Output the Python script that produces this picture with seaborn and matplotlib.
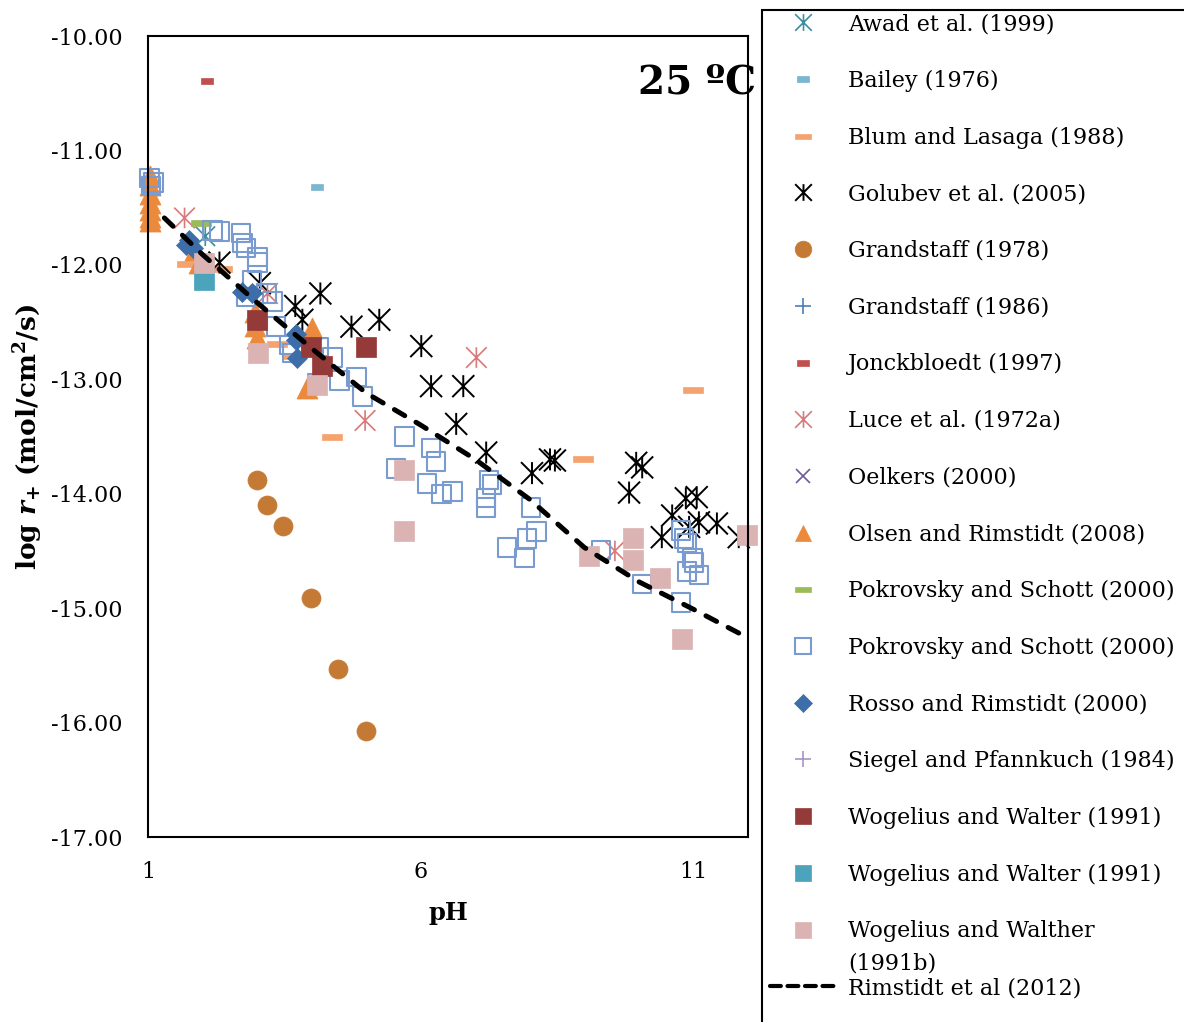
import numpy as np
import pandas as pd
import matplotlib
matplotlib.use("Agg")
import matplotlib.pyplot as plt
import seaborn as sns
from matplotlib.path import Path
from matplotlib.lines import Line2D
from matplotlib.patches import Rectangle
from matplotlib.ticker import FormatStrFormatter, FixedLocator

sns.set_theme(style="white")
plt.rcParams['font.family'] = ['DejaVu Serif']
plt.rcParams['axes.unicode_minus'] = False
plt.rcParams['mathtext.fontset'] = 'custom'
plt.rcParams['mathtext.rm'] = 'DejaVu Serif:bold'
plt.rcParams['mathtext.it'] = 'DejaVu Serif:italic:bold'
plt.rcParams['mathtext.bf'] = 'DejaVu Serif:bold'

# ---------------- data (pH, log r+) ----------------
awad_ph = [2.05]
awad_r = [-11.75]
bailey_ph = [4.09]
bailey_r = [-11.32]
blum_ph = [1.72, 2.36, 3.37, 3.65, 4.38, 8.98, 10.99]
blum_r = [-11.99, -12.04, -12.69, -12.80, -13.50, -13.70, -13.09]
golubev_ph = [2.31, 3.05, 3.70, 3.83, 4.16, 4.73, 5.24, 6.01, 6.19, 6.78, 6.65, 7.20,
              8.04, 8.37, 8.46, 9.82, 9.95, 10.06, 10.42, 10.61, 10.86, 11.06, 10.92,
              11.10, 11.43, 11.83]
golubev_r = [-11.98, -12.16, -12.36, -12.48, -12.25, -12.54, -12.48, -12.71, -13.06,
             -13.06, -13.39, -13.64, -13.82, -13.70, -13.71, -13.99, -13.73, -13.77,
             -14.38, -14.19, -14.04, -14.03, -14.29, -14.25, -14.26, -14.38]
grand78_ph = [2.99, 3.19, 3.48, 3.99, 4.49, 5.00]
grand78_r = [-13.88, -14.10, -14.28, -14.91, -15.53, -16.07]
grand86_ph = [2.00]
grand86_r = [-15.72]
jonck_ph = [2.09]
jonck_r = [-10.39]
luce_ph = [1.67, 3.19, 4.98, 7.02, 9.56]
luce_r = [-11.59, -12.25, -13.36, -12.81, -14.50]
oelkers_ph = [2.00, 2.07, 2.14]
oelkers_r = [-11.70, -11.77, -11.83]
olsen_ph = [1.03, 1.03, 1.03, 1.03, 1.03, 1.03, 1.03, 1.87, 1.94, 2.97, 2.97, 2.99,
            4.01, 3.92]
olsen_r = [-11.22, -11.30, -11.38, -11.46, -11.52, -11.58, -11.62, -11.87, -11.98,
           -12.41, -12.53, -12.64, -12.55, -13.08]
pokg_ph = [1.98]
pokg_r = [-11.63]
poks_ph = [1.03, 1.06, 1.10, 2.18, 2.31, 2.71, 2.73, 2.80, 3.01, 3.01, 2.91, 3.17, 2.80,
           3.28, 3.35, 3.59, 3.65, 4.14, 4.38, 4.51, 4.82, 4.93, 4.10, 5.70, 5.55, 6.19,
           6.28, 6.12, 6.38, 6.58, 7.25, 7.31, 7.20, 7.20, 8.02, 8.12, 7.95, 7.58, 7.90,
           9.31, 10.06, 10.77, 10.77, 10.83, 10.88, 10.98, 11.01, 10.88, 11.10]
poks_r = [-11.24, -11.31, -11.28, -11.70, -11.71, -11.72, -11.81, -11.85, -11.93, -11.98,
          -12.13, -12.25, -12.28, -12.32, -12.54, -12.70, -12.77, -12.72, -12.81, -13.01,
          -12.98, -13.15, -13.03, -13.50, -13.78, -13.60, -13.72, -13.91, -14.00, -13.98,
          -13.88, -13.92, -14.04, -14.12, -14.12, -14.33, -14.39, -14.47, -14.56, -14.49,
          -14.79, -14.95, -14.32, -14.39, -14.43, -14.56, -14.60, -14.68, -14.71]
rosso_ph = [1.76, 1.82, 1.70, 2.73, 2.90, 3.72, 3.72, 3.74]
rosso_r = [-11.78, -11.85, -11.83, -12.24, -12.25, -12.60, -12.66, -12.81]
siegel_ph = [3.99]
siegel_r = [-13.29]
wogred_ph = [2.99, 3.99, 4.19, 5.00]
wogred_r = [-12.48, -12.72, -12.88, -12.72]
wogteal_ph = [2.02]
wogteal_r = [-12.13]
wogpink_ph = [2.02, 3.01, 4.09, 5.70, 5.70, 9.09, 9.89, 9.89, 10.39, 10.79, 11.98]
wogpink_r = [-11.98, -12.77, -13.05, -13.79, -14.33, -14.54, -14.39, -14.58, -14.74,
             -15.27, -14.36]
rimstidt_ph = [1.30, 2.0, 3.0, 4.0, 5.0, 6.0, 7.0, 8.0, 9.0, 10.0, 11.0, 11.84]
rimstidt_r = [-11.59, -11.91, -12.33, -12.73, -13.12, -13.40, -13.70, -14.05, -14.47,
              -14.77, -15.01, -15.22]

labels = ["Awad et al. (1999)", "Bailey (1976)", "Blum and Lasaga (1988)",
          "Golubev et al. (2005)", "Grandstaff (1978)", "Grandstaff (1986)",
          "Jonckbloedt (1997)", "Luce et al. (1972a)", "Oelkers (2000)",
          "Olsen and Rimstidt (2008)", "Pokrovsky and Schott (2000)",
          "Pokrovsky and Schott (2000)", "Rosso and Rimstidt (2000)",
          "Siegel and Pfannkuch (1984)", "Wogelius and Walter (1991)",
          "Wogelius and Walter (1991)", "Wogelius and Walther", "Rimstidt et al (2012)"]
x_ticks = [1, 6, 11]
y_ticks = [-10, -11, -12, -13, -14, -15, -16, -17]

# ---------------- marker shapes ----------------
M, L, C = Path.MOVETO, Path.LINETO, Path.CLOSEPOLY
STAR = Path([(0, -1), (0, 1), (-1, -1), (1, 1), (-1, 1), (1, -1)], [M, L, M, L, M, L])
DASH_LONG = Path([(-1, -0.3), (1, -0.3), (1, 0.3), (-1, 0.3), (-1, -0.3)], [M, L, L, L, C])
DASH_SHORT = Path([(-1, -0.55), (1, -0.55), (1, 0.55), (-1, 0.55), (-1, -0.55)], [M, L, L, L, C])

W, H = 1184, 1022
fig = plt.figure(figsize=(W / 100, H / 100), dpi=100)
ax = fig.add_axes([148 / W, 1 - 837 / H, 600 / W, 801 / H])
ax.set_facecolor("white")

def pts(xs, ys, marker, s, face, edge, lw, z):
    sns.scatterplot(x=xs, y=ys, marker=marker, s=s, color=edge, facecolor=face,
                    edgecolor=edge, linewidth=lw, ax=ax, legend=False, zorder=z)

# (marker, s, face, edge, lw, legend markersize)
styles = [
    (STAR, 200, "none", "#3f8ea0", 1.2, 12),
    (DASH_SHORT, 63, "#7ab6cf", "#7ab6cf", 0.5, 8),
    (DASH_LONG, 207, "#f5a36e", "#f5a36e", 0.5, 12),
    (STAR, 250, "none", "#000000", 1.4, 12),
    ("o", 188, "#c47a35", "#c47a35", 0.5, 12),
    ("+", 170, "none", "#4a7ebb", 1.2, 12),
    (DASH_SHORT, 63, "#c0504d", "#c0504d", 0.5, 8),
    (STAR, 220, "none", "#d9797a", 1.2, 12),
    ("x", 110, "none", "#6c5a9a", 1.2, 10),
    ("^", 230, "#eb8a3c", "#eb8a3c", 0.5, 12),
    (DASH_LONG, 207, "#9bbb59", "#9bbb59", 0.5, 12),
    ("s", 175, "none", "#7a9bd0", 1.5, 12),
    ("D", 104, "#3e6ea9", "#3e6ea9", 0.5, 9),
    ("+", 170, "none", "#a893c4", 1.2, 12),
    ("s", 207, "#943a38", "#943a38", 0.5, 12),
    ("s", 207, "#4ba3bc", "#4ba3bc", 0.5, 12),
    ("s", 207, "#dcb3b3", "#dcb3b3", 0.5, 12),
]
series = [(awad_ph, awad_r), (bailey_ph, bailey_r), (blum_ph, blum_r),
          (golubev_ph, golubev_r), (grand78_ph, grand78_r), (grand86_ph, grand86_r),
          (jonck_ph, jonck_r), (luce_ph, luce_r), (oelkers_ph, oelkers_r),
          (olsen_ph, olsen_r), (pokg_ph, pokg_r), (poks_ph, poks_r),
          (rosso_ph, rosso_r), (siegel_ph, siegel_r), (wogred_ph, wogred_r),
          (wogteal_ph, wogteal_r), (wogpink_ph, wogpink_r)]

for i, ((xs, ys), st) in enumerate(zip(series, styles)):
    pts(xs, ys, st[0], st[1], st[2], st[3], st[4], 2 + i * 0.01)

sns.lineplot(x=rimstidt_ph, y=rimstidt_r, ax=ax, color="black", linewidth=3.6,
             linestyle=(0, (2.4, 2.6)), dash_capstyle="round", zorder=3, sort=False)

for coll in ax.collections:
    coll.set_clip_on(False)

ax.set_xlim(1, 12)
ax.set_ylim(-17, -10)
ax.xaxis.set_major_locator(FixedLocator(x_ticks))
ax.yaxis.set_major_locator(FixedLocator(y_ticks))
ax.yaxis.set_major_formatter(FormatStrFormatter('%.2f'))
ax.tick_params(axis='both', direction='in', length=5, width=1.3, color='black',
               labelsize=16, labelcolor='black', pad=18)
ax.tick_params(axis='x', pad=17)
for sp in ax.spines.values():
    sp.set_visible(True)
    sp.set_color('black')
    sp.set_linewidth(1.5)

ax.set_xlabel("pH", fontsize=17.5, fontweight='bold', color='black')
ax.set_ylabel(r"log $r_{+}$ (mol/cm$^{2}$/s)", fontsize=19, fontweight='bold', color='black')
ax.xaxis.set_label_coords(0.5, -0.095)
ax.yaxis.set_label_coords(-0.2, 0.5)
ax.xaxis.label.set_verticalalignment('center')
ax.yaxis.label.set_verticalalignment('center')
ax.grid(False)

fig.text(756 / W, 1 - 82 / H, "25 ºC", ha='right', va='center', fontsize=28,
         fontweight='bold', color='black', zorder=10)

# ---------------- legend ----------------
handles = []
for st in styles:
    filled = st[2] != "none"
    handles.append(Line2D([], [], linestyle='none', marker=st[0], markersize=st[5],
                          markerfacecolor=st[2] if filled else 'none',
                          markeredgecolor=st[3], markeredgewidth=st[4] if not filled else 0.5))
handles.append(Line2D([], [], color='black', linewidth=3.0, linestyle=(0, (2.6, 1.6)),
                      dash_capstyle='round'))

leg = fig.legend(handles=handles, labels=labels, loc='upper left',
                 bbox_to_anchor=(770 / W, 1 - 13 / H), frameon=False, fontsize=16,
                 handlelength=2.93, handletextpad=0.59, labelspacing=1.56,
                 borderpad=0, borderaxespad=0)
for t in leg.get_texts():
    t.set_color('black')

fig.add_artist(Rectangle((762 / W, -0.1), 1.0, 1.1 - 10 / H, transform=fig.transFigure,
                         fill=False, edgecolor='black', linewidth=1.5, clip_on=False))

fig.canvas.draw()
tb = leg.get_texts()[16].get_window_extent()
fig.text(tb.x0 / W, (tb.y0 + tb.y1) / 2 / H - 32 / H, "(1991b)", ha='left', va='center',
         fontsize=16, color='black')

fig.savefig("out.png", dpi=100)
